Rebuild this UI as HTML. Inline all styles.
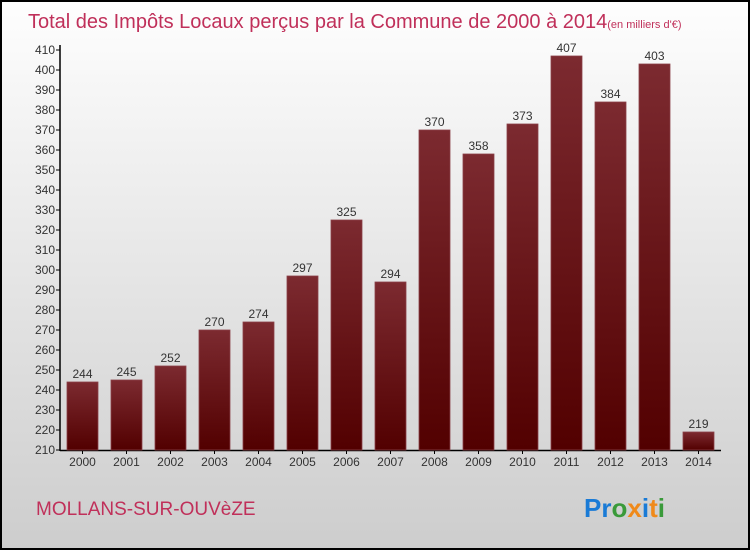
<!DOCTYPE html>
<html><head><meta charset="utf-8"><style>
body{margin:0}
svg{display:block;font-family:"Liberation Sans",sans-serif}
</style></head><body>
<svg id="c" width="750" height="550">
<defs>
<linearGradient id="bg" x1="0" y1="0" x2="0" y2="1"><stop offset="0" stop-color="#fefefe"/><stop offset="1" stop-color="#cdcdcd"/></linearGradient>
<linearGradient id="bar" x1="0" y1="0" x2="0" y2="1"><stop offset="0" stop-color="#7c2a30"/><stop offset="1" stop-color="#520000"/></linearGradient>
</defs>
<rect x="1" y="1" width="748" height="548" fill="url(#bg)" stroke="#000" stroke-width="2"/>
<text x="28" y="28" font-size="20" fill="#c0305a">Total des Impôts Locaux perçus par la Commune de 2000 à 2014<tspan font-size="11">(en milliers d'€)</tspan></text>
<text x="36" y="515" font-size="19" fill="#c0305a">MOLLANS-SUR-OUVèZE</text>
<text x="584" y="517" font-size="26" font-weight="bold"><tspan fill="#1a7bd6">Pr</tspan><tspan fill="#3a9a3a">o</tspan><tspan fill="#f08a1a">x</tspan><tspan fill="#1a7bd6">i</tspan><tspan fill="#f08a1a">t</tspan><tspan fill="#3a9a3a">i</tspan></text>
<g id="axes"></g><g id="bars"></g>
</svg>
<script>
const years=["2000","2001","2002","2003","2004","2005","2006","2007","2008","2009","2010","2011","2012","2013","2014"];
const values=[244,245,252,270,274,297,325,294,370,358,373,407,384,403,219];
const yTicks=[210,220,230,240,250,260,270,280,290,300,310,320,330,340,350,360,370,380,390,400,410];
const NS="http://www.w3.org/2000/svg";
const y=v=>450-(v-210)*2;
const x=i=>82.5+i*44;
function mk(t,a,p,txt){const e=document.createElementNS(NS,t);for(const k in a)e.setAttribute(k,a[k]);if(txt!==undefined)e.textContent=txt;p.appendChild(e);return e;}
const ax=document.getElementById('axes'),bs=document.getElementById('bars');
let l=mk('line',{x1:60,y1:45,x2:60,y2:451,stroke:'#000','stroke-width':1.5},ax);


l=mk('line',{x1:60,y1:450.5,x2:721,y2:450.5,stroke:'#000','stroke-width':1.5},ax);


yTicks.forEach(v=>{
 const t=mk('line',{x1:56,x2:60,y1:y(v),y2:y(v),stroke:'#000'},ax);
 
 
 const s=mk('text',{x:55,y:y(v)+4,'font-size':12,'text-anchor':'end',fill:'#333'},ax,v);
 
 
});
years.forEach((yr,i)=>{
 const t=mk('line',{x1:x(i),x2:x(i),y1:450,y2:454,stroke:'#000'},ax);
 
 
 const s=mk('text',{x:x(i),y:466,'font-size':12,'text-anchor':'middle',fill:'#333'},ax,yr);
 
 
 const b=mk('rect',{x:x(i)-15.5,y:y(values[i]),width:31,height:450-y(values[i]),fill:'url(#bar)',stroke:'#8a4048','stroke-width':0.8},bs);
 
 
 const vl=mk('text',{x:x(i),y:y(values[i])-4,'font-size':12,'text-anchor':'middle',fill:'#333'},bs,values[i]);
 
 
});
</script>
</body></html>
